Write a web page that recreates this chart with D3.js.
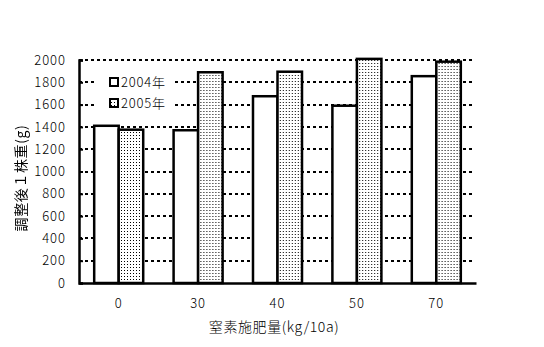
<!DOCTYPE html>
<html>
<head>
<meta charset="utf-8">
<script src="https://cdn.jsdelivr.net/npm/d3@7"></script>
<style>
  body { margin: 0; background: #fff; }
  text { font-family: "Noto Sans CJK JP", "DejaVu Sans", sans-serif; fill: #000; }
</style>
</head>
<body>
<svg id="chart" width="544" height="347"></svg>
<script>
// categories = nitrogen rate (kg/10a)
var categories = ["0", "30", "40", "50", "70"];
var seriesNames = ["2004年", "2005年"];
var values2004 = [1410, 1370, 1675, 1590, 1855];
var values2005 = [1375, 1890, 1895, 2010, 1985];
var yTicks = [0, 200, 400, 600, 800, 1000, 1200, 1400, 1600, 1800, 2000];

var svg = d3.select("#chart");
var margin = {left: 79, top: 60, right: 68, bottom: 64};
var width = 544, height = 347;

// dotted fill for the 2005 bars
var defs = svg.append("defs");
var pat = defs.append("pattern").attr("id", "dots").attr("patternUnits", "userSpaceOnUse")
    .attr("width", 3).attr("height", 3);
pat.append("rect").attr("width", 3).attr("height", 3).attr("fill", "#fff");
pat.append("rect").attr("x", 0).attr("y", 0).attr("width", 1).attr("height", 1).attr("fill", "#000");

var x0 = d3.scaleBand().domain(categories).range([margin.left, width - margin.right]).padding(0);
var x1 = d3.scaleBand().domain(seriesNames).range([0, x0.bandwidth()]).paddingInner(0).paddingOuter(0.62);
var y = d3.scaleLinear().domain([0, 2000]).range([height - margin.bottom, margin.top]);

var data = categories.map(function (c, i) {
    return {cat: c, vals: [{s: seriesNames[0], v: values2004[i]}, {s: seriesNames[1], v: values2005[i]}]};
});

//gridlines
svg.append("g").selectAll("line").data(yTicks.slice(1)).enter().append("line")
    .attr("x1", margin.left).attr("x2", width - margin.right - 3)
    .attr("y1", function (d) { return Math.round(y(d)); }).attr("y2", function (d) { return Math.round(y(d)); })
    .attr("stroke", "#000").attr("stroke-width", 2).attr("stroke-dasharray", "3,3")
    .attr("shape-rendering", "crispEdges");

// legend background covers gridlines
svg.append("rect").attr("x", 95).attr("y", 70).attr("width", 78).attr("height", 44).attr("fill", "#fff");

//bars
var groups = svg.append("g").selectAll("g").data(data).enter().append("g")
    .attr("transform", function (d) { return "translate(" + x0(d.cat) + ",0)"; });
groups.selectAll("rect").data(function (d) { return d.vals; }).enter().append("rect")
    .attr("x", function (d) { return x1(d.s); })
    .attr("width", x1.bandwidth())
    .attr("y", function (d) { return y(d.v); })
    .attr("height", function (d) { return y(0) - y(d.v); })
    .attr("fill", function (d, i) { return i === 0 ? "#fff" : "url(#dots)"; })
    .attr("stroke", "#000").attr("stroke-width", 2.5);

// y axis
var yAxis = d3.axisLeft(y).tickValues(yTicks).tickSize(-4).tickPadding(13).tickFormat(d3.format("d"));
var gy = svg.append("g").attr("transform", "translate(" + margin.left + ",0)").call(yAxis);
gy.select(".domain").attr("stroke-width", 2.5);
gy.selectAll(".tick line").attr("stroke-width", 2);
gy.selectAll("text").attr("font-size", 13).attr("letter-spacing", "1px")
    .style("font-family", "'Noto Sans CJK JP', sans-serif").style("font-weight", 300);

// x axis
var xAxis = d3.axisBottom(x0).tickSize(0).tickPadding(16);
var gx = svg.append("g").attr("transform", "translate(0," + y(0) + ")").call(xAxis);
gx.select(".domain").attr("stroke-width", 2.5);
gx.selectAll("text").attr("font-size", 13).attr("letter-spacing", "1px")
    .style("font-family", "'Noto Sans CJK JP', sans-serif").style("font-weight", 300);

// legend
var legend = svg.append("g");
seriesNames.forEach(function (s, i) {
    var ly = 82 + i * 21;
    legend.append("rect").attr("x", 110).attr("y", ly - 4).attr("width", 8).attr("height", 8)
        .attr("fill", i === 0 ? "#fff" : "url(#dots)").attr("stroke", "#000").attr("stroke-width", 2);
    legend.append("text").attr("x", 121).attr("y", ly).attr("dy", "0.35em")
        .attr("font-size", 13).attr("letter-spacing", "0.8px").style("font-weight", 300).text(s);
});

// axis titles
svg.append("text").attr("x", 274).attr("y", 327).attr("dy", "0.35em").attr("text-anchor", "middle")
    .attr("font-size", 14).attr("letter-spacing", "0.6px").style("font-weight", 300).text("窒素施肥量(kg/10a)");
svg.append("text").attr("transform", "translate(21,178) rotate(-90)").attr("dy", "0.35em")
    .attr("text-anchor", "middle").attr("font-size", 14).attr("letter-spacing", "0.6px")
    .attr("fill", "#000").style("filter", "grayscale(1)").style("font-weight", 400).text("調整後１株重(g)");
</script>
</body>
</html>
